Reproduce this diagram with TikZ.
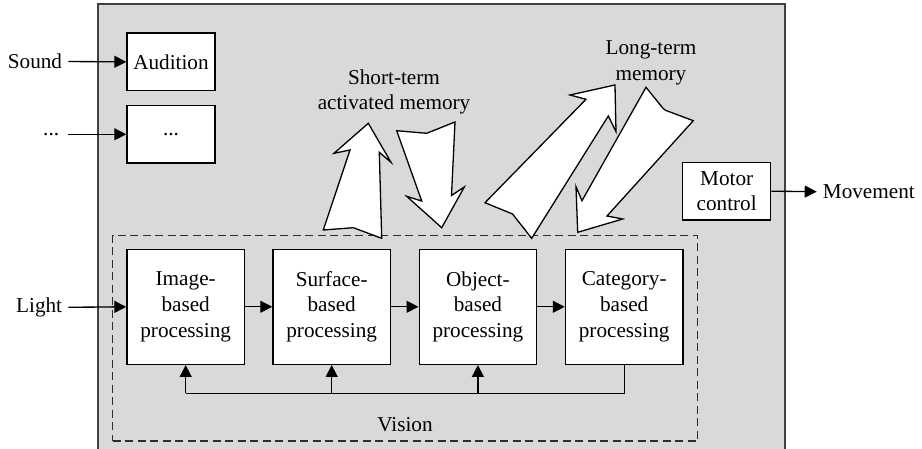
\documentclass[tikz,border=0pt]{standalone}
\usepackage{fontspec}
\setmainfont{Liberation Serif}
\usetikzlibrary{arrows.meta}
\definecolor{panel}{RGB}{217,217,217}
\definecolor{frameline}{RGB}{64,64,64}
\definecolor{dashline}{RGB}{45,45,45}
\begin{document}
\begin{tikzpicture}[x=1pt,y=-1pt,
  font=\fontsize{21.2}{25.8}\selectfont,
  tip/.style={-{Triangle[length=12pt,width=12pt]}},
  wire/.style={line width=1.35pt},
  unit/.style={draw=black,fill=white,line width=1.4pt,align=center,inner sep=0pt},
  smallunit/.style={unit,minimum width=88pt,minimum height=57.7pt},
  stage/.style={unit,minimum width=117.4pt,minimum height=115pt},
  label/.style={inner sep=0pt,align=center},
  bigarrow/.style={draw=black,fill=white,line width=1.3pt,line join=miter}]
\useasboundingbox (0,0) rectangle (922,449);

% grey panel, open at the bottom
\fill[panel] (97.7,4) rectangle (785,452);
\draw[frameline,line width=1.6pt] (97.7,452) -- (97.7,4) -- (785,4) -- (785,452);

% vision group
\node[draw=dashline,line width=1.3pt,dash pattern=on 8pt off 4.5pt,
      minimum width=585pt,minimum height=205.7pt,inner sep=0pt]
      (vision) at (405.2,338.2) {};
\node[label] (visionlbl) at (405,425) {Vision};

% input modalities
\node[smallunit] (aud) at (171,61.9) {Audition};
\node[smallunit] (other) at (171,134.3) {...};
\node[label,anchor=east,inner xsep=6pt] (sound) at (68.3,61.5) {Sound};
\node[label,anchor=east,inner xsep=9pt] (dots) at (68.3,134.3) {...};
\draw[wire,tip] (sound.east) -- (aud.west);
\draw[wire,tip] (dots.east) -- (other.west);

% motor output
\node[smallunit] (motor) at (726.7,191.2) {Motor\\control};
\node[label,anchor=west,inner xsep=6pt] (move) at (816.7,191.7) {Movement};
\draw[wire,tip] (motor.east) -- (move.west);

% visual processing stages
\node[stage] (img)  at (185.7,306.8) {Image-\\based\\processing};
\node[stage] (surf) at (331.7,306.8) {Surface-\\based\\processing};
\node[stage] (obj)  at (477.9,306.8) {Object-\\based\\processing};
\node[stage] (cat)  at (624.2,306.8) {Category-\\based\\processing};
\node[label,anchor=east,inner xsep=6pt] (light) at (68.3,307.3) {Light};
\draw[wire,tip] (light.east) -- (img.west);
\draw[wire,tip] (img.east) -- (surf.west);
\draw[wire,tip] (surf.east) -- (obj.west);
\draw[wire,tip] (obj.east) -- (cat.west);

% feedback loop from the category stage
\coordinate (fb) at (0,393.3);
\draw[wire] (cat.south) -- (cat.south |- fb) -- (img.south |- fb);
\draw[wire,tip] (img.south |- fb) -- (img.south);
\draw[wire,tip] (surf.south |- fb) -- (surf.south);
\draw[wire,tip] (obj.south |- fb) -- (obj.south);

% memory labels
\node[label] (stm) at (394,92) {Short-term\\activated memory};
\node[label] (ltm) at (651,63) {Long-term\\memory};

% exchange with short-term activated memory
\draw[bigarrow] (368.3,123.3) -- (391,162.3) -- (379.3,152.3) -- (381.7,238.3)
  -- (353.3,227.7) -- (323.3,230) -- (350,150) -- (334,153.3) -- cycle;
\draw[bigarrow] (396.7,130.7) -- (426.7,133.3) -- (455,122) -- (451.5,195.5)
  -- (464.3,187) -- (441.7,227.7) -- (406.7,196.3) -- (421.7,201) -- cycle;

% exchange with long-term memory
\draw[bigarrow] (615,85) -- (616,131.7) -- (608.3,116) -- (531.7,238.3)
  -- (512.5,214) -- (485,202.7) -- (586,99.3) -- (570,95) -- cycle;
\draw[bigarrow] (646,87.3) -- (663,108.3) -- (665.5,110.3) -- (693.3,120.7)
  -- (607,216) -- (622.7,219) -- (577.7,232.3) -- (576,186.7) -- (582,200.7) -- cycle;
\end{tikzpicture}
\end{document}
